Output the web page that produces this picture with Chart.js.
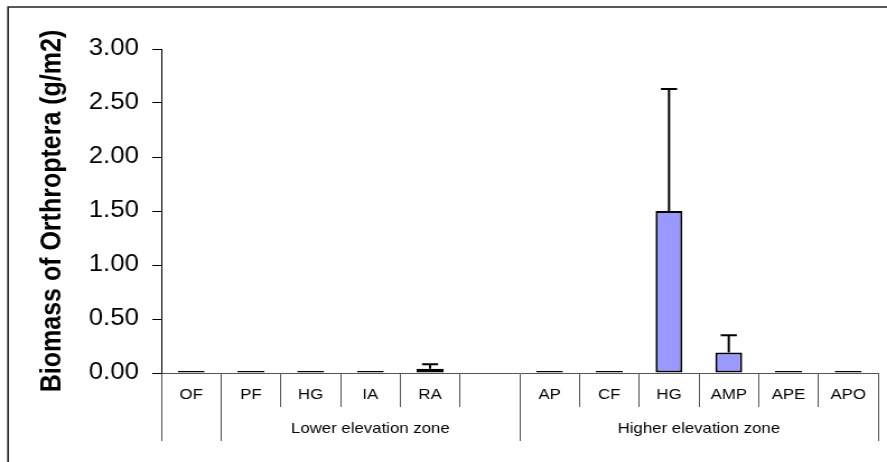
<!DOCTYPE html>
<html>
<head>
<meta charset="utf-8">
<script src="https://cdn.jsdelivr.net/npm/chart.js@4"></script>
<style>
  html, body { margin: 0; padding: 0; background: #fff; overflow: hidden; }
  #wrap {
    width: 792px;
    height: 462px;
    transform: scaleX(1.12);
    transform-origin: left top;
  }
</style>
</head>
<body>
<div id="wrap"><canvas id="chart-biomass"></canvas></div>
<script>
const categories = ["OF", "PF", "HG", "IA", "RA", "", "AP", "CF", "HG", "AMP", "APE", "APO"];
const biomass = [0, 0, 0, 0, 0.04, null, 0, 0, 1.50, 0.19, 0, 0];
const biomassError = [0, 0, 0, 0, 0.04, null, 0, 0, 1.13, 0.16, 0, 0];
const yTicks = [0, 0.5, 1, 1.5, 2, 2.5, 3];
const zoneNames = ["Lower elevation zone", "Higher elevation zone"];
const zoneCenters = [3.5, 9];
const zoneEdges = [0, 1, 6, 12];

document.addEventListener("DOMContentLoaded", () => {
  const canvas = document.getElementById("chart-biomass");

  // frame around the whole picture (only top/left edges are visible)
  const framePlugin = {
    id: "frame",
    beforeDraw(chart) {
      const ctx = chart.ctx;
      ctx.save();
      ctx.strokeStyle = "#222";
      ctx.lineWidth = 1.6;
      ctx.beginPath();
      ctx.moveTo(7.2, chart.height + 5);
      ctx.lineTo(7.2, 7);
      ctx.lineTo(chart.width + 5, 7);
      ctx.stroke();
      ctx.restore();
    }
  };

  const errorBarPlugin = {
    id: "errorBars",
    afterDatasetsDraw(chart) {
      const ctx = chart.ctx;
      const meta = chart.getDatasetMeta(0);
      const yScale = chart.scales.y;
      ctx.save();
      ctx.strokeStyle = "#000";
      ctx.lineWidth = 2;
      meta.data.forEach((bar, i) => {
        const err = biomassError[i];
        if (!err || biomass[i] == null) return;
        const yTop = yScale.getPixelForValue(biomass[i] + err);
        const yVal = yScale.getPixelForValue(biomass[i]);
        ctx.beginPath();
        ctx.moveTo(bar.x, yVal);
        ctx.lineTo(bar.x, yTop);
        ctx.moveTo(bar.x - 7.2, yTop);
        ctx.lineTo(bar.x + 7.2, yTop);
        ctx.stroke();
      });
      ctx.restore();
    }
  };

  new Chart(canvas.getContext("2d"), {
    type: "bar",
    data: {
      labels: categories,
      datasets: [{
        data: biomass,
        backgroundColor: "#9999ff",
        borderColor: "#000",
        borderWidth: 2,
        borderSkipped: false,
        minBarLength: 2,
        barPercentage: 0.45,
        categoryPercentage: 1
      }]
    },
    options: {
      responsive: true,
      maintainAspectRatio: false,
      animation: false,
      layout: { padding: { left: 0, right: 8, top: 49, bottom: 21 } },
      plugins: {
        legend: { display: false },
        tooltip: { enabled: false }
      },
      scales: {
        x: {
          type: "category",
          position: "bottom",
          weight: 0,
          offset: true,
          grid: {
            offset: true,
            drawOnChartArea: false,
            drawTicks: true,
            tickLength: 34,
            color: "#555",
            lineWidth: 1
          },
          border: { display: true, color: "#555", width: 1 },
          ticks: {
            color: "#000",
            padding: -21,
            autoSkip: false,
            maxRotation: 0,
            font: { family: "'Liberation Sans', Arial, sans-serif", size: 15 }
          },
          afterFit: scale => { scale.height = 34; }
        },
        zone: {
          type: "linear",
          axis: "x",
          position: "bottom",
          weight: 1,
          min: 0,
          max: 12,
          offset: false,
          grid: {
            offset: false,
            drawOnChartArea: false,
            drawTicks: true,
            tickLength: 34,
            lineWidth: 1,
            color: ctx => (ctx.tick && zoneCenters.includes(ctx.tick.value)) ? "rgba(0,0,0,0)" : "#555"
          },
          border: { display: false },
          ticks: {
            color: "#000",
            padding: -21,
            autoSkip: false,
            maxRotation: 0,
            font: { family: "'Liberation Sans', Arial, sans-serif", size: 15 },
            callback: value => {
              const idx = zoneCenters.indexOf(value);
              return idx >= 0 ? zoneNames[idx] : "";
            }
          },
          afterBuildTicks: scale => {
            scale.ticks = zoneEdges.concat(zoneCenters).sort((a, b) => a - b).map(v => ({ value: v }));
          },
          afterFit: scale => { scale.height = 34; }
        },
        y: {
          min: 0,
          max: 3,
          grid: {
            drawOnChartArea: false,
            drawTicks: true,
            tickLength: 8,
            color: "#000"
          },
          border: { display: true, color: "#000", width: 1 },
          afterBuildTicks: scale => {
            scale.ticks = yTicks.map(v => ({ value: v }));
          },
          ticks: {
            color: "#000",
            padding: 12,
            font: { family: "'Liberation Sans', Arial, sans-serif", size: 23 },
            callback: value => value.toFixed(2)
          },
          title: {
            display: true,
            text: "Biomass of Orthroptera (g/m2)",
            color: "#000",
            padding: { top: 32, bottom: 0 },
            font: { family: "'Liberation Sans', Arial, sans-serif", size: 25, weight: "bold" }
          },
          afterFit: scale => { scale.width = 144; }
        }
      }
    },
    plugins: [framePlugin, errorBarPlugin]
  });
});
</script>
</body>
</html>
